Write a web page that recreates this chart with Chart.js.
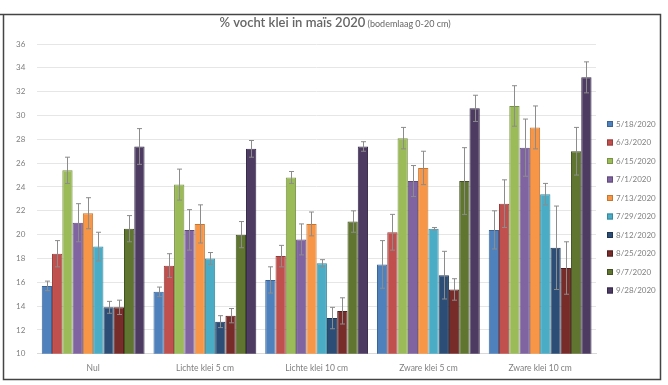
<!DOCTYPE html>
<html>
<head>
<meta charset="utf-8">
<script src="https://cdn.jsdelivr.net/npm/chart.js@4.4.1/dist/chart.umd.min.js"></script>
<style>
  html, body { margin: 0; padding: 0; background: #fff; }
  #wrap { width: 668px; height: 385px; position: relative; }
</style>
</head>
<body>
<div id="wrap"><canvas id="barChart" width="668" height="385"></canvas></div>
<script>
const categories = ['Nul', 'Lichte klei 5 cm', 'Lichte klei 10 cm', 'Zware klei 5 cm', 'Zware klei 10 cm'];
const dates = ['5/18/2020', '6/3/2020', '6/15/2020', '7/1/2020', '7/13/2020', '7/29/2020', '8/12/2020', '8/25/2020', '9/7/2020', '9/28/2020'];
const colors = ['#4F81BD', '#C0504D', '#9BBB59', '#8064A2', '#F79646', '#4BACC6', '#2C4D75', '#772C2A', '#5F7530', '#4D3B62'];
const borders = ['#3A6496', '#963C3A', '#789346', '#5F4A7A', '#C7752F', '#34899F', '#1E3653', '#531E1D', '#425222', '#35294A'];

// values per date, one entry per category
const d0518 = [15.7, 15.2, 16.2, 17.5, 20.4];
const d0603 = [18.4, 17.4, 18.2, 20.2, 22.6];
const d0615 = [25.4, 24.2, 24.8, 28.1, 30.8];
const d0701 = [21.0, 20.4, 19.6, 24.5, 27.3];
const d0713 = [21.8, 20.9, 20.9, 25.6, 29.0];
const d0729 = [19.0, 18.0, 17.6, 20.5, 23.4];
const d0812 = [13.9, 12.7, 13.0, 16.6, 18.9];
const d0825 = [13.9, 13.2, 13.6, 15.4, 17.2];
const d0907 = [20.5, 20.0, 21.1, 24.5, 27.0];
const d0928 = [27.4, 27.2, 27.4, 30.6, 33.2];

// error (+/-) per date
const e0518 = [0.4, 0.4, 1.1, 2.0, 1.6];
const e0603 = [1.1, 1.0, 0.9, 1.5, 2.0];
const e0615 = [1.1, 1.3, 0.5, 0.9, 1.7];
const e0701 = [1.6, 1.7, 1.3, 1.3, 2.4];
const e0713 = [1.3, 1.6, 1.0, 1.4, 1.8];
const e0729 = [1.2, 0.5, 0.3, 0.1, 0.9];
const e0812 = [0.5, 0.5, 0.9, 2.0, 3.5];
const e0825 = [0.6, 0.6, 1.1, 0.9, 2.2];
const e0907 = [1.1, 1.1, 0.9, 2.8, 2.0];
const e0928 = [1.5, 0.7, 0.4, 1.1, 1.3];

const values = [d0518, d0603, d0615, d0701, d0713, d0729, d0812, d0825, d0907, d0928];
const errors = [e0518, e0603, e0615, e0701, e0713, e0729, e0812, e0825, e0907, e0928];
const yTicks = [10, 12, 14, 16, 18, 20, 22, 24, 26, 28, 30, 32, 34, 36];

const FONT = 'Lato, "Open Sans", sans-serif';

const errorBars = {
    id: 'errorBars',
    afterDatasetsDraw(chart) {
        const c = chart.ctx;
        const y = chart.scales.y;
        c.save();
        c.strokeStyle = '#8c8c8c';
        c.lineWidth = 1;
        chart.data.datasets.forEach((ds, i) => {
            const meta = chart.getDatasetMeta(i);
            meta.data.forEach((bar, j) => {
                const v = ds.data[j];
                const e = errors[i][j];
                const x = Math.round(bar.x) + 0.5;
                const yTop = y.getPixelForValue(v + e);
                const yBot = y.getPixelForValue(v - e);
                c.beginPath();
                c.moveTo(x, yTop);
                c.lineTo(x, yBot);
                c.moveTo(x - 2.5, yTop);
                c.lineTo(x + 2.5, yTop);
                c.moveTo(x - 2.5, yBot);
                c.lineTo(x + 2.5, yBot);
                c.stroke();
            });
        });
        c.restore();
    }
};

// legend, title and outer frame drawn by hand to match the screenshot
const frameTitleLegend = {
    id: 'frameTitleLegend',
    afterDraw(chart) {
        const c = chart.ctx;
        c.save();
        c.strokeStyle = '#444';
        c.lineWidth = 1.5;
        c.beginPath();
        c.moveTo(0, 14.5);
        c.lineTo(660.5, 14.5);
        c.lineTo(660.5, 379.5);
        c.lineTo(3.5, 379.5);
        c.lineTo(3.5, 14.5);
        c.stroke();

        const main = '% vocht klei in maïs 2020';
        const sub = ' (bodemlaag 0-20 cm)';
        c.fillStyle = '#666666';
        c.textBaseline = 'alphabetic';
        c.font = '600 13px ' + FONT;
        const w1 = c.measureText(main).width;
        c.font = '9px ' + FONT;
        const w2 = c.measureText(sub).width;
        const x = 335 - (w1 + w2) / 2;
        c.font = '600 13px ' + FONT;
        c.fillText(main, x, 27);
        c.font = '9px ' + FONT;
        c.fillText(sub, x + w1, 27);

        c.font = '8px ' + FONT;
        c.textBaseline = 'middle';
        chart.data.datasets.forEach((ds, i) => {
            const ly = 124 + i * 18.5;
            c.fillStyle = colors[i];
            c.fillRect(607, ly - 3, 6, 6);
            c.strokeStyle = borders[i];
            c.lineWidth = 1;
            c.strokeRect(607.5, ly - 2.5, 5, 5);
            c.fillStyle = '#7f7f7f';
            c.fillText(ds.label, 616, ly);
        });
        c.restore();
    }
};

document.addEventListener('DOMContentLoaded', function () {
    const ctx = document.getElementById('barChart').getContext('2d');

    const data = {
        labels: categories,
        datasets: dates.map((d, i) => ({
            label: d,
            data: values[i],
            backgroundColor: colors[i],
            borderColor: borders[i],
            borderWidth: 1,
        })),
    };

    const config = {
        type: 'bar',
        data: data,
        options: {
            responsive: false,
            animation: false,
            categoryPercentage: 0.92,
            barPercentage: 1.0,
            layout: { padding: { top: 44, right: 72, bottom: 11, left: 4 } },
            plugins: {
                title: { display: false },
                tooltip: { enabled: false },
                legend: { display: false },
            },
            scales: {
                x: {
                    grid: { display: false },
                    border: { color: '#d9d9d9' },
                    ticks: { color: '#7f7f7f', font: { family: FONT, size: 8.5 }, padding: 1 },
                },
                y: {
                    min: 10,
                    max: 36,
                    afterBuildTicks: (axis) => { axis.ticks = yTicks.map(v => ({ value: v })); },
                    grid: { color: '#e6e6e6', drawTicks: false },
                    border: { display: false },
                    ticks: { color: '#7f7f7f', font: { family: FONT, size: 8 }, padding: 12 },
                },
            },
        },
        plugins: [errorBars, frameTitleLegend],
    };

    const myChart = new Chart(ctx, config);
});
</script>
</body>
</html>
